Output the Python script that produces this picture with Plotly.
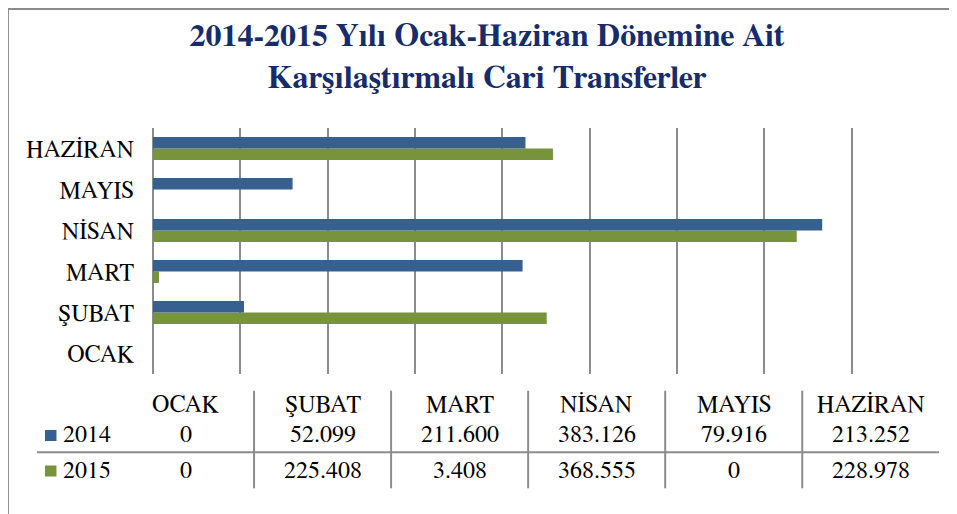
import plotly.graph_objects as go

months = ["OCAK", "ŞUBAT", "MART", "NİSAN", "MAYIS", "HAZİRAN"]
values_2014 = [0, 52.099, 211.600, 383.126, 79.916, 213.252]
values_2015 = [0, 225.408, 3.408, 368.555, 0, 228.978]
series_names = ["2014", "2015"]

BLUE = "#35608F"
GREEN = "#77933C"
GRID = "#8C8C8C"
FONT = "FreeSerif, Liberation Serif, Times New Roman, serif"

OFF = 8  # page body margin of the browser
W, H = 957 - OFF, 514 - OFF
# plot area in page pixels: x 153..938.7, y 128..374
L, R, T, B = 153 - OFF, 957 - 938.7, 128 - OFF, 514 - 374
PW, PH = W - L - R, H - T - B


def px(x):
    return (x - OFF - L) / PW


def py(y):
    return (H - B - (y - OFF)) / PH


def fmt(v):
    return "0" if v == 0 else f"{v:.3f}"


fig = go.Figure()
fig.add_trace(go.Bar(y=months, x=values_2015, name=series_names[1], orientation="h",
                     marker=dict(color=GREEN, line=dict(width=0))))
fig.add_trace(go.Bar(y=months, x=values_2014, name=series_names[0], orientation="h",
                     marker=dict(color=BLUE, line=dict(width=0))))

shapes = []
annotations = []

# outer frame (left and top)
shapes.append(dict(type="line", xref="paper", yref="paper", x0=px(8), x1=px(8), y0=py(9), y1=py(514),
                   line=dict(color=GRID, width=2)))
shapes.append(dict(type="line", xref="paper", yref="paper", x0=px(8), x1=px(957), y0=py(9), y1=py(9),
                   line=dict(color=GRID, width=2)))

# data table
tbl_left, col_w = 117, 137
row_y = [404.5, 435, 470.5]
tfont = dict(family=FONT, size=24, color="#000")
for i, m in enumerate(months):
    cx = tbl_left + col_w * (i + 0.5)
    annotations.append(dict(xref="paper", yref="paper", x=px(cx), y=py(row_y[0]), text=m, showarrow=False,
                            xanchor="center", yanchor="middle", font=tfont))
    annotations.append(dict(xref="paper", yref="paper", x=px(cx), y=py(row_y[1]), text=fmt(values_2014[i]),
                            showarrow=False, xanchor="center", yanchor="middle", font=tfont))
    annotations.append(dict(xref="paper", yref="paper", x=px(cx), y=py(row_y[2]), text=fmt(values_2015[i]),
                            showarrow=False, xanchor="center", yanchor="middle", font=tfont))
    if i > 0:
        xl = tbl_left + col_w * i
        shapes.append(dict(type="line", xref="paper", yref="paper", x0=px(xl), x1=px(xl),
                           y0=py(390.7), y1=py(488.3), line=dict(color=GRID, width=2)))

shapes.append(dict(type="line", xref="paper", yref="paper", x0=px(37), x1=px(938.7),
                   y0=py(452.3), y1=py(452.3), line=dict(color=GRID, width=2)))

for name, color, yy in [(series_names[0], BLUE, row_y[1]), (series_names[1], GREEN, row_y[2])]:
    shapes.append(dict(type="rect", xref="paper", yref="paper", x0=px(45), x1=px(56.5),
                       y0=py(yy - 5), y1=py(yy + 6), fillcolor=color, line=dict(width=0)))
    annotations.append(dict(xref="paper", yref="paper", x=px(61), y=py(yy), text=name, showarrow=False,
                            xanchor="left", yanchor="middle", font=tfont))

fig.update_layout(
    width=W, height=H,
    margin=dict(l=L, r=R, t=T, b=B, pad=0),
    paper_bgcolor="white", plot_bgcolor="white",
    barmode="group", bargap=0.44, bargroupgap=0,
    showlegend=False,
    title=dict(text="<b>2014-2015 Yılı Ocak-Haziran Dönemine Ait<br>Karşılaştırmalı Cari Transferler</b>",
               x=(487 - OFF) / W, xanchor="center", xref="container",
               y=1 - 38 / H, yanchor="top", yref="container",
               font=dict(family=FONT, size=32, color="#172C6A")),
    xaxis=dict(range=[0, 450], dtick=50, showgrid=True, gridcolor=GRID, gridwidth=2,
               showticklabels=False, zeroline=True, zerolinecolor=GRID, zerolinewidth=2,
               showline=False, ticks="", fixedrange=True),
    yaxis=dict(categoryorder="array", categoryarray=months, range=[-0.5, 5.5],
               showgrid=False, zeroline=False, showline=False, ticks="",
               ticklabelstandoff=18,
               tickfont=dict(family=FONT, size=24, color="#000"), fixedrange=True),
    shapes=shapes,
    annotations=annotations,
)

fig.write_html("out.html")
